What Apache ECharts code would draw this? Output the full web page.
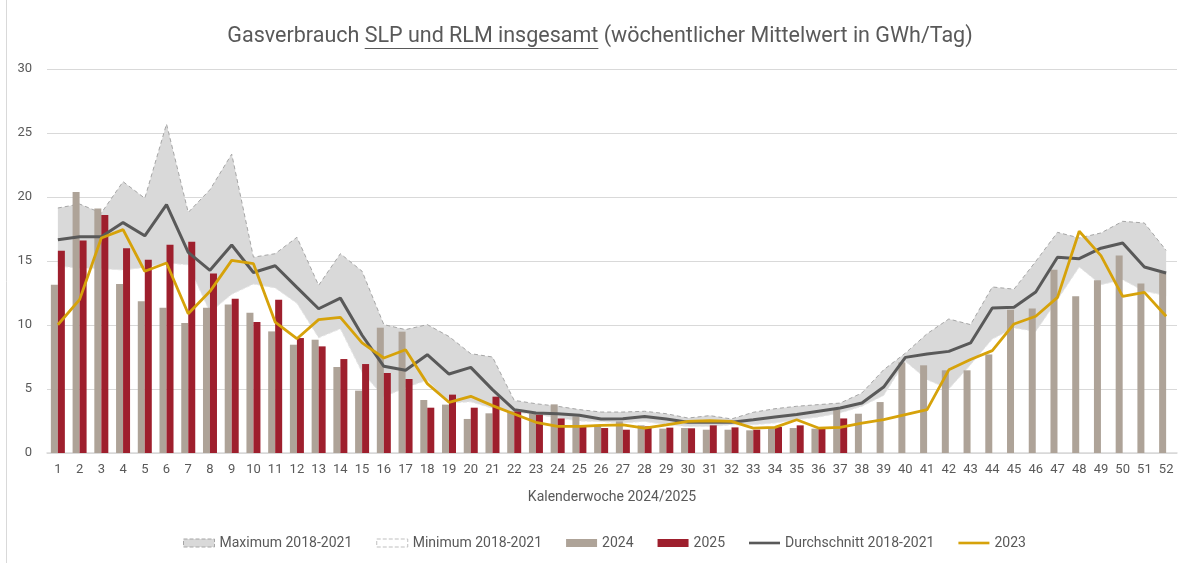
<!DOCTYPE html>
<html>
<head>
<meta charset="utf-8">
<script src="https://cdn.jsdelivr.net/npm/echarts@6/dist/echarts.min.js"></script>
<style>
html,body{margin:0;padding:0;background:#fff;}
#c{width:1190px;height:563px;}
</style>
</head>
<body>
<div id="c"></div>
<script>
var weeks = [];
for (var i = 1; i <= 52; i++) weeks.push(String(i));

var yTicks = [0, 5, 10, 15, 20, 25, 30];

var maximum = [19.14, 19.45, 18.75, 21.2, 19.9, 25.7, 18.8, 20.57, 23.35, 15.3, 15.57, 16.85, 13.1, 15.57, 14.2, 10.03, 9.64, 10.03, 9.1, 7.76, 7.5, 4.11, 3.85, 3.65, 3.39, 3.2, 3.2, 3.26, 3.07, 2.73, 2.92, 2.66, 3.18, 3.46, 3.65, 3.78, 3.9, 4.69, 6.5, 7.8, 9.32, 10.47, 10.03, 12.97, 12.8, 14.97, 17.24, 16.8, 17.19, 18.1, 17.97, 15.83];

var minimum = [14.6, 14.45, 14.4, 14.3, 14.5, 14.85, 14.7, 11.0, 12.4, 13.2, 12.9, 11.7, 9.0, 9.7, 6.3, 4.4, 5.1, 5.7, 3.9, 4.0, 3.5, 3.2, 3.0, 2.75, 2.5, 2.45, 2.34, 2.47, 2.2, 2.08, 2.08, 2.2, 2.2, 2.34, 2.6, 2.81, 3.13, 3.65, 4.5, 7.16, 5.73, 5.0, 6.9, 8.9, 9.77, 9.5, 11.98, 14.53, 13.15, 13.54, 12.63, 12.3];

var y2024 = [13.15, 20.4, 19.1, 13.2, 11.85, 11.35, 10.15, 11.35, 11.6, 10.96, 9.5, 8.46, 8.85, 6.72, 4.87, 9.79, 9.48, 4.14, 3.78, 2.66, 3.1, 3.26, 3.1, 3.8, 2.86, 2.2, 2.47, 2.16, 1.9, 1.95, 1.82, 1.82, 1.77, 1.95, 1.95, 1.9, 3.39, 3.07, 3.98, 7.08, 6.85, 6.46, 6.46, 7.7, 11.2, 11.28, 14.32, 12.24, 13.49, 15.42, 13.25, 14.06];

var y2025 = [15.8, 16.6, 18.6, 16.0, 15.1, 16.27, 16.5, 14.03, 12.05, 10.23, 11.98, 8.98, 8.33, 7.34, 6.95, 6.25, 5.78, 3.54, 4.56, 3.54, 4.4, 3.26, 3.0, 2.7, 2.08, 1.95, 1.82, 2.08, 1.98, 1.93, 2.16, 2.0, 1.82, 2.03, 2.16, 1.9, 2.7];

var average = [16.66, 16.9, 16.9, 18.0, 16.97, 19.4, 15.67, 14.27, 16.25, 14.1, 14.63, 12.94, 11.27, 12.1, 9.2, 6.77, 6.46, 7.68, 6.17, 6.69, 4.95, 3.39, 3.13, 3.07, 2.95, 2.65, 2.68, 2.86, 2.66, 2.4, 2.4, 2.4, 2.6, 2.81, 3.0, 3.26, 3.52, 3.9, 5.15, 7.47, 7.73, 7.94, 8.6, 11.33, 11.38, 12.58, 15.29, 15.18, 16.0, 16.4, 14.53, 14.06];

var y2023 = [10.02, 11.98, 16.8, 17.45, 14.2, 14.84, 10.88, 12.63, 15.05, 14.79, 10.23, 8.93, 10.42, 10.6, 8.6, 7.42, 8.07, 5.42, 3.96, 4.43, 3.7, 3.05, 2.4, 2.08, 2.08, 2.16, 2.2, 1.95, 2.2, 2.47, 2.52, 2.47, 1.95, 2.0, 2.6, 1.95, 2.0, 2.34, 2.6, 3.0, 3.39, 6.5, 7.3, 8.0, 10.08, 10.68, 12.16, 17.32, 15.42, 12.24, 12.55, 10.68];

var titleA = 'Gasverbrauch ';
var titleB = 'SLP und RLM insgesamt';
var titleC = ' (wöchentlicher Mittelwert in GWh/Tag)';

var FONT = 'Roboto, "Liberation Sans", sans-serif';
var TXT = '#595959';

// band = max - min (stacked on min)
var band = maximum.map(function (v, i) { return +(v - minimum[i]).toFixed(3); });

// measure title pieces for underline
var titleFont = '21.5px Roboto';
var cv = document.createElement('canvas').getContext('2d');
cv.font = titleFont;
var wA = cv.measureText(titleA).width;
var wB = cv.measureText(titleB).width;
var wAll = cv.measureText(titleA + titleB + titleC).width;
var titleCx = 600;
var tx0 = titleCx - wAll / 2;
var titleTop = 26;

var LINE_ICON = 'path://M0,0H40V3.4H0Z';

var chart = echarts.init(document.getElementById('c'), null, {renderer: 'canvas'});
var option = {
  animation: false,
  backgroundColor: '#fff',
  textStyle: {fontFamily: FONT},
  graphic: [
    {type: 'line', shape: {x1: 6.5, y1: 0, x2: 6.5, y2: 563}, style: {stroke: '#d9d9d9', lineWidth: 1}},
    {type: 'text', x: titleCx, y: titleTop, style: {text: titleA + titleB + titleC, font: titleFont, fill: TXT, textAlign: 'center', textVerticalAlign: 'top'}},
    {type: 'line', shape: {x1: tx0 + wA, y1: titleTop + 22.5, x2: tx0 + wA + wB, y2: titleTop + 22.5}, style: {stroke: TXT, lineWidth: 1.2}}
  ],
  grid: {left: 47, right: 13, top: 69, bottom: 110, containLabel: false},
  legend: {
    left: 178,
    top: 531,
    itemWidth: 31,
    itemHeight: 8,
    itemGap: 24,
    textStyle: {color: TXT, fontSize: 14, fontFamily: FONT},
    data: [
      {name: 'Maximum 2018-2021', icon: 'rect', itemStyle: {color: '#d9d9d9', borderColor: '#a6a6a6', borderWidth: 1, borderType: 'dashed'}},
      {name: 'Minimum 2018-2021', icon: 'rect', itemStyle: {color: '#ffffff', borderColor: '#bfbfbf', borderWidth: 1, borderType: 'dashed'}},
      {name: '2024', icon: 'rect'},
      {name: '2025', icon: 'rect'},
      {name: 'Durchschnitt 2018-2021', icon: LINE_ICON, itemStyle: {color: '#595959', borderWidth: 0}},
      {name: '2023', icon: LINE_ICON, itemStyle: {color: '#d6a20a', borderWidth: 0}}
    ]
  },
  xAxis: {
    type: 'category',
    data: weeks,
    boundaryGap: true,
    axisTick: {show: false},
    axisLine: {lineStyle: {color: '#d9d9d9', width: 1.5}},
    axisLabel: {color: TXT, fontSize: 13, margin: 10, interval: 0},
    name: 'Kalenderwoche 2024/2025',
    nameLocation: 'middle',
    nameGap: 37,
    nameTextStyle: {color: TXT, fontSize: 14}
  },
  yAxis: {
    type: 'value',
    min: yTicks[0],
    max: yTicks[yTicks.length - 1],
    interval: yTicks[1] - yTicks[0],
    axisLine: {show: false},
    axisTick: {show: false},
    axisLabel: {color: TXT, fontSize: 13, margin: 15},
    splitLine: {lineStyle: {color: '#d9d9d9', width: 1.2}}
  },
  series: [
    {
      name: 'Minimum 2018-2021',
      type: 'line',
      stack: 'band',
      data: minimum,
      symbol: 'none',
      silent: true,
      lineStyle: {color: '#e6e6e6', width: 1, type: 'dashed'},
      itemStyle: {color: '#ffffff'},
      z: 1
    },
    {
      name: 'Maximum 2018-2021',
      type: 'line',
      stack: 'band',
      data: band,
      symbol: 'none',
      silent: true,
      lineStyle: {color: '#a6a6a6', width: 1, type: [4, 3]},
      itemStyle: {color: '#d9d9d9'},
      areaStyle: {color: '#d9d9d9', opacity: 1},
      z: 1
    },
    {
      name: '2024',
      type: 'bar',
      data: y2024,
      barWidth: 7,
      barGap: '0%',
      itemStyle: {color: '#aea398'},
      z: 2
    },
    {
      name: '2025',
      type: 'bar',
      data: y2025,
      barWidth: 7,
      barGap: '0%',
      itemStyle: {color: '#9e1f2d'},
      z: 2
    },
    {
      name: 'Durchschnitt 2018-2021',
      type: 'line',
      data: average,
      symbol: 'none',
      lineStyle: {color: '#595959', width: 3},
      itemStyle: {color: '#595959'},
      z: 3
    },
    {
      name: '2023',
      type: 'line',
      data: y2023,
      symbol: 'none',
      lineStyle: {color: '#d6a20a', width: 2.8},
      itemStyle: {color: '#d6a20a'},
      z: 4
    }
  ]
};
chart.setOption(option);
</script>
</body>
</html>
